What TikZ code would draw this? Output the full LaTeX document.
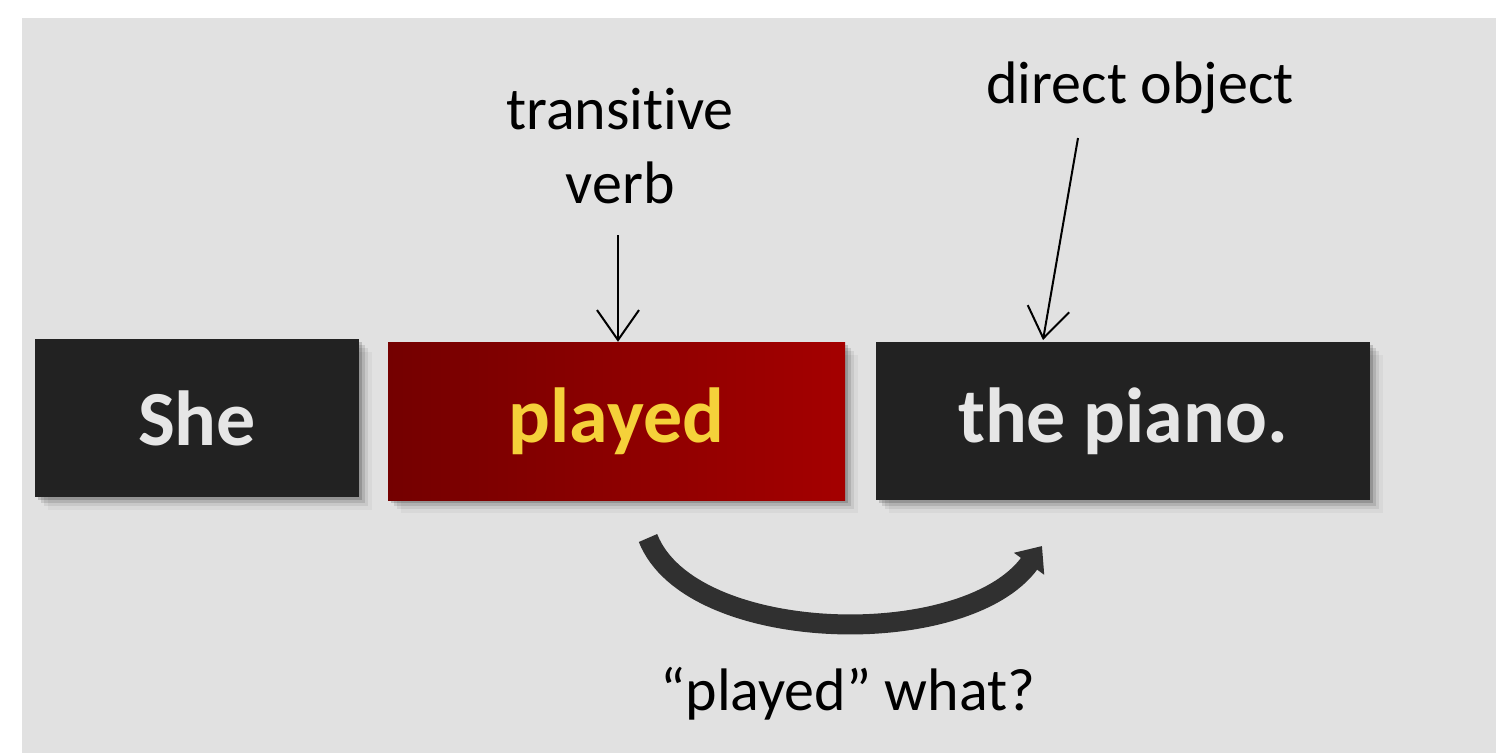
\documentclass[tikz,border=0pt]{standalone}
\usepackage{fontspec}
\setmainfont{Carlito}[Ligatures={NoCommon}]
\usetikzlibrary{arrows.meta,shadows}

\definecolor{panelgray}{HTML}{E1E1E1}
\definecolor{boxdark}{HTML}{222222}
\definecolor{wordlight}{HTML}{E6E6E6}
\definecolor{verbyellow}{HTML}{F5D13A}
\definecolor{verbdark}{HTML}{740000}
\definecolor{verbred}{HTML}{A40000}
\definecolor{curvegray}{HTML}{303030}

\tikzset{
  softshadow/.style={
    drop shadow={shadow xshift=3pt,shadow yshift=-3pt,opacity=.16,fill=black},
    drop shadow={shadow xshift=6pt,shadow yshift=-6pt,opacity=.11,fill=black},
    drop shadow={shadow xshift=9pt,shadow yshift=-9pt,opacity=.07,fill=black},
    drop shadow={shadow xshift=13pt,shadow yshift=-13pt,opacity=.04,fill=black}},
  wordbox/.style={rectangle,inner sep=0pt,minimum height=158pt,softshadow,
    font=\fontsize{78}{90}\selectfont\bfseries},
  darkbox/.style={wordbox,fill=boxdark,text=wordlight},
  verbbox/.style={wordbox,left color=verbdark,right color=verbred,text=verbyellow},
  label/.style={inner sep=0pt,align=center,text=black,
    font=\fontsize{60}{74}\selectfont},
  pointer/.style={line width=2pt,-{Straight Barb[length=30pt,width=42pt,line width=2pt]}},
  bigcurve/.style={line width=20pt,draw=curvegray,line cap=butt,
    -{Triangle[length=22pt,width=36pt]}}
}

\begin{document}
\begin{tikzpicture}[x=1pt,y=-1pt]
  \useasboundingbox (0,0) rectangle (1496,753);
  \fill[white] (0,0) rectangle (1496,753);
  \fill[panelgray] (22,18) rectangle (1496,753);

  % the three parts of the sentence
  \node[darkbox,minimum width=324pt] (she)   at (197,418)    {She};
  \node[verbbox,minimum width=457pt] (verb)  at (616.5,421)  {played};
  \node[darkbox,minimum width=494pt] (obj)   at (1123,421)   {the piano.};

  % labels above the boxes
  \node[label] (tv) at (620,146) {transitive\\verb};
  \node[label,anchor=base] (do) at (1140,103) {direct object};

  \coordinate (tvfrom) at (618,235);
  \coordinate (dofrom) at (1078,138);
  \coordinate (doto)   at (1043,340);
  \draw[pointer] (tvfrom) -- (verb.north -| tvfrom);
  \draw[pointer] (dofrom) -- (doto);

  % the question that finds the object
  \coordinate (qfrom) at (648,538);
  \coordinate (qto)   at (1042,546);
  \draw[bigcurve] (qfrom) .. controls (690,645) and (965,652) .. (qto);
  \node[label,anchor=base] (q) at (848,710) {“played” what?};
\end{tikzpicture}
\end{document}
